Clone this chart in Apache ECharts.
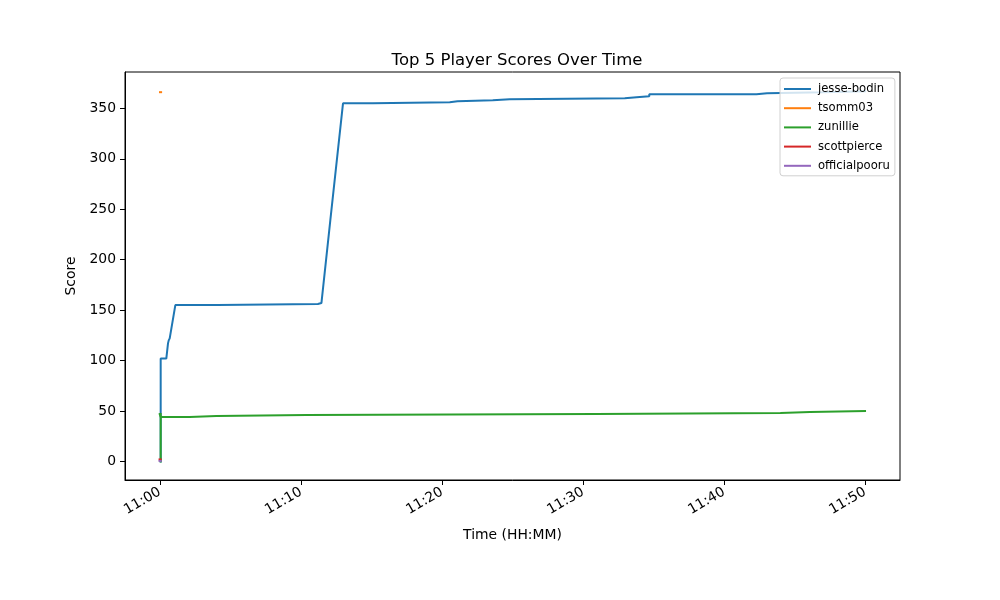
<!DOCTYPE html>
<html>
<head>
<meta charset="utf-8">
<title>Top 5 Player Scores Over Time</title>
<script src="https://cdn.jsdelivr.net/npm/echarts@6/dist/echarts.min.js"></script>
<style>
  html, body { margin: 0; padding: 0; background: #fff; }
  #chart { width: 1000px; height: 600px; }
</style>
</head>
<body>
<div id="chart"></div>
<script>
// minutes after 11:00 and score, one pair of arrays per player
const players = ["jesse-bodin", "tsomm03", "zunillie", "scottpierce", "officialpooru"];
const colors = ["#1f77b4", "#ff7f0e", "#2ca02c", "#d62728", "#9467bd"];

const jesseMin = [0.05, 0.05, 0.45, 0.57, 0.62, 0.69, 1.09, 4.1, 4.1, 11.2, 11.2, 11.45, 12.08, 12.98,
  15.1, 15.1, 20.55, 20.55, 21.1, 21.1, 23.6, 23.6, 24.8, 24.8, 32.96, 32.96, 33.8, 33.8, 34.7, 34.7,
  42.3, 42.3, 43.05, 43.05, 47.0, 47.0, 50.0];
const jesseScore = [0, 102, 102, 117, 120, 122, 155, 155, 156, 156, 157, 157, 239, 355,
  355, 356, 356, 357, 357, 358, 358, 359, 359, 360, 360, 361, 361, 362, 362, 364,
  364, 365, 365, 366, 366, 367, 367];

const tsommMin = [0.0, 0.08];
const tsommScore = [366, 366];

const zunillieMin = [-0.02, 0.05, 0.05, 2.1, 2.1, 4.0, 4.0, 10.4, 10.4, 30.9, 30.9, 44.0, 44.0, 46.1, 46.1, 50.0];
const zunillieScore = [47, 47, 44, 44, 45, 45, 46, 46, 47, 47, 48, 48, 49, 49, 50, 50];

const zunillieStartMin = [0.05, 0.05];
const zunillieStartScore = [0, 47];

const scottMin = [-0.03, 0.05];
const scottScore = [2, 2];

const poorMin = [-0.03, 0.05];
const poorScore = [0.5, 0.5];

const xTicks = [0, 10, 20, 30, 40, 50];
const yTicks = [0, 50, 100, 150, 200, 250, 300, 350];

const seriesData = [
  [jesseMin, jesseScore],
  [tsommMin, tsommScore],
  [zunillieMin, zunillieScore],
  [scottMin, scottScore],
  [poorMin, poorScore]
];

const font = "DejaVu Sans";

const toPoints = (xs, ys) => xs.map((t, k) => [t, ys[k]]);

const series = players.map((name, i) => ({
  name: name,
  type: "line",
  showSymbol: false,
  symbol: "none",
  color: colors[i],
  lineStyle: { color: colors[i], width: 2, cap: "square" },
  data: toPoints(seriesData[i][0], seriesData[i][1])
}));
// zunillie's vertical climb from zero at the start, drawn as part of the same player
series.splice(3, 0, {
  name: "zunillie",
  type: "line",
  showSymbol: false,
  symbol: "none",
  color: colors[2],
  lineStyle: { color: colors[2], width: 2, cap: "square" },
  data: toPoints(zunillieStartMin, zunillieStartScore)
});

var myChart = echarts.init(document.getElementById("chart"));
myChart.setOption({
  animation: false,
  backgroundColor: "#ffffff",
  title: {
    text: "Top 5 Player Scores Over Time",
    left: 512,
    top: 47,
    textAlign: "center",
    textStyle: { fontFamily: font, fontSize: 16.5, fontWeight: "normal", color: "#000" }
  },
  grid: {
    left: 125, right: 100, top: 72, bottom: 120,
    show: true, borderColor: "#000", borderWidth: 1
  },
  legend: {
    orient: "vertical",
    left: 780,
    top: 78,
    padding: [5, 5, 4, 4],
    itemGap: 7.2,
    itemWidth: 27,
    itemHeight: 2,
    icon: "rect",
    backgroundColor: "rgba(255,255,255,0.8)",
    borderColor: "#d0d0d0",
    borderWidth: 1,
    borderRadius: 3,
    textStyle: { fontFamily: font, fontSize: 11.6, color: "#000", padding: [0, 0, 0, 2] },
    data: players
  },
  xAxis: {
    type: "value",
    min: -2.48,
    max: 52.48,
    name: "Time (HH:MM)",
    nameLocation: "middle",
    nameGap: 48,
    nameTextStyle: { fontFamily: font, fontSize: 13.9, color: "#000" },
    splitLine: { show: false },
    axisLine: { show: true, onZero: false, lineStyle: { color: "#000", width: 1 } },
    axisTick: { show: true, length: 5, customValues: xTicks, lineStyle: { color: "#000" } },
    axisLabel: {
      customValues: xTicks,
      rotate: 30,
      margin: 11,
      fontFamily: font,
      fontSize: 13.9,
      color: "#000",
      formatter: (v) => "11:" + String(Math.round(v)).padStart(2, "0")
    }
  },
  yAxis: {
    type: "value",
    min: -18.4,
    max: 386,
    name: "Score",
    nameLocation: "middle",
    nameGap: 44,
    nameTextStyle: { fontFamily: font, fontSize: 13.9, color: "#000" },
    splitLine: { show: false },
    axisLine: { show: true, onZero: false, lineStyle: { color: "#000", width: 1 } },
    axisTick: { show: true, length: 5, customValues: yTicks, lineStyle: { color: "#000" } },
    axisLabel: {
      customValues: yTicks,
      margin: 9,
      fontFamily: font,
      fontSize: 13.9,
      color: "#000"
    }
  },
  series: series
});
</script>
</body>
</html>
